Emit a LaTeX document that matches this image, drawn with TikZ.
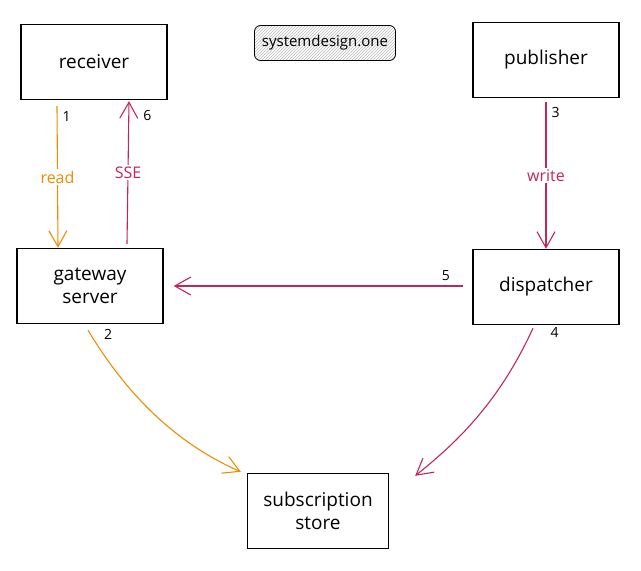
\documentclass[tikz,border=0pt]{standalone}
\usepackage{fontspec}
\setmainfont{Open Sans}
\usepackage{tikz}
\usetikzlibrary{positioning, arrows.meta, patterns}
\definecolor{flowOrange}{HTML}{F08C00}
\definecolor{flowRed}{HTML}{C2255C}

\begin{document}
\begin{tikzpicture}[x=1pt, y=-1pt,
  box/.style={draw, line width=1.4pt, minimum width=146pt, minimum height=75pt, align=center, font=\fontsize{19}{23}\selectfont},
  tag/.style={draw, line width=0.8pt, rounded corners=6pt, pattern=north east lines, pattern color=gray!55, minimum width=141pt, minimum height=35pt, font=\fontsize{15}{17}\selectfont},
  flow/.style={line width=1.1pt, -{Straight Barb[length=16pt,width=18pt]}},
  lbl/.style={fill=white, inner sep=2pt, font=\fontsize{16}{18}\selectfont},
  num/.style={font=\fontsize{14}{16}\selectfont, inner sep=1pt}]

\useasboundingbox (0,0) rectangle (641,571);

\node[box] (rc) at (94,62)  {receiver};
\node[box] (pb) at (546,60) {publisher};
\node[box] (gw) at (90,286) {gateway\\server};
\node[box] (dp) at (546,287) {dispatcher};
\node[box, minimum width=141pt] (st) at (318,511) {subscription\\store};
\node[tag] (tg) at (325,43) {systemdesign.one};

% client side
\draw[flow, flowOrange] ([xshift=-37pt,yshift=-6pt]rc.south) -- ([xshift=-32pt]gw.north)
  node[lbl, midway] (rd) {read}
  node[num, pos=0.07, right=4pt, text=black] (n1) {1};
\draw[flow, flowRed] ([xshift=37pt,yshift=4pt]gw.north) -- ([xshift=35pt,yshift=-1pt]rc.south)
  node[lbl, midway] (ss) {SSE}
  node[num, pos=0.9, right=13pt, text=black] (n6) {6};

% publisher side
\draw[flow, flowRed] ([yshift=-4pt]pb.south) -- (dp.north)
  node[lbl, midway] (wr) {write}
  node[num, pos=0.07, right=4pt, text=black] (n3) {3};
\draw[flow, flowRed] ([xshift=-9pt,yshift=1pt]dp.west) -- ([xshift=10pt]gw.east)
  node[num, pos=0.06, above=4pt, text=black] (n5) {5};

% store
\draw[flow, flowOrange] ([xshift=-2pt,yshift=-6pt]gw.south) .. controls (130,400) and (180,445) .. ([xshift=-6pt,yshift=1pt]st.north west)
  node[num, pos=0.02, right=12pt, text=black] (n2) {2};
\draw[flow, flowRed] ([xshift=-13pt,yshift=-3pt]dp.south) .. controls (500,400) and (460,440) .. ([xshift=26pt,yshift=-3pt]st.north east)
  node[num, pos=0.02, right=18pt, text=black] (n4) {4};

\end{tikzpicture}
\end{document}
